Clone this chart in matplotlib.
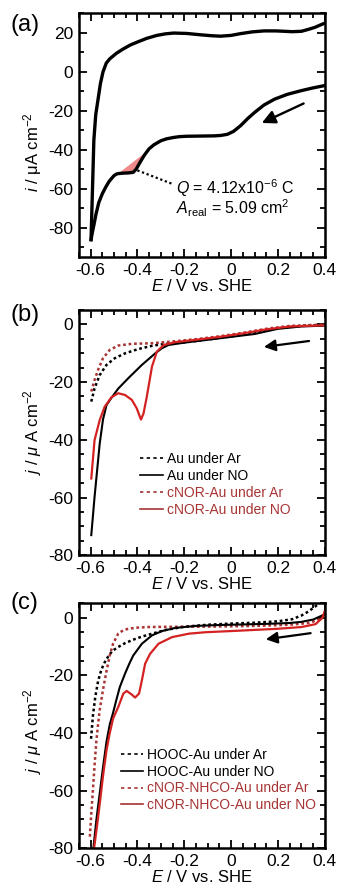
# -*- coding: utf-8 -*-
# three stacked voltammograms (a) CV, (b)/(c) LSV under Ar / NO

import matplotlib
matplotlib.use("Agg")
import matplotlib.pyplot as plt
import numpy as np
from matplotlib.lines import Line2D
from matplotlib.ticker import MultipleLocator

plt.rcParams['font.family'] = ['Liberation Sans', 'DejaVu Sans']
plt.rcParams['mathtext.fontset'] = 'custom'
plt.rcParams['mathtext.rm'] = 'Liberation Sans'
plt.rcParams['mathtext.it'] = 'Liberation Sans:italic'

# ---- (a) cyclic voltammogram
a_up_E = [-0.598, -0.593, -0.586, -0.578, -0.568, -0.558, -0.547, -0.533, -0.518, -0.49,
          -0.46, -0.43, -0.40, -0.36, -0.317, -0.28, -0.245, -0.19, -0.13, -0.08,
          -0.045, 0.0, 0.04, 0.09, 0.14, 0.19, 0.228, 0.26, 0.30, 0.33, 0.357, 0.38, 0.40]
a_up_i = [-86, -65, -35, -22, -14, -6, 0, 4.5, 6.7, 9.5,
          11.8, 13.8, 15.3, 17.2, 18.7, 19.5, 19.9, 19.7, 19.0, 18.5,
          18.3, 18.7, 19.6, 20.5, 21.0, 21.0, 20.8, 20.6, 20.8, 21.8, 22.8, 24.0, 25.0]
a_down_E = [0.40, 0.35, 0.30, 0.24, 0.185, 0.14, 0.10, 0.07, 0.04, 0.01,
            -0.016, -0.045, -0.073, -0.13, -0.19, -0.22, -0.245, -0.275, -0.30, -0.33,
            -0.35, -0.37, -0.39, -0.405, -0.418, -0.44, -0.46, -0.48, -0.49, -0.50,
            -0.52, -0.535, -0.55, -0.565, -0.577, -0.585, -0.592, -0.598]
a_down_i = [-7, -8.2, -9.6, -11.5, -14, -17, -20.8, -24, -27.6, -30.5,
            -32, -32.6, -32.8, -32.9, -33.0, -33.2, -33.6, -34.3, -35.3, -37.4,
            -39.4, -42.6, -46.6, -49.8, -51.5, -51.8, -51.9, -52.1, -52.4, -53.2,
            -56, -59, -62.5, -67, -73, -78, -82, -86]
q_base_E = [-0.49, -0.35]
q_base_i = [-52.4, -39.4]

# ---- (b) Au / cNOR-Au
b_au_ar_E = [-0.597, -0.583, -0.561, -0.532, -0.497, -0.453, -0.396, -0.338, -0.281,
             -0.2, -0.1, 0.0, 0.1, 0.2, 0.3, 0.4]
b_au_ar_j = [-26.8, -22.2, -17.6, -14.1, -11.8, -10.1, -8.6, -7.5, -6.8,
             -6.3, -5.3, -4.2, -3.0, -1.4, -0.6, -0.2]
b_cn_ar_E = [-0.597, -0.583, -0.568, -0.547, -0.518, -0.482, -0.424, -0.338, -0.252,
             -0.15, -0.05, 0.05, 0.15, 0.25, 0.4]
b_cn_ar_j = [-23.3, -19.3, -15.8, -11.8, -8.9, -7.4, -6.8, -6.6, -6.0,
             -5.2, -4.2, -3.0, -1.6, -0.6, -0.1]
b_au_no_E = [-0.597, -0.583, -0.561, -0.547, -0.532, -0.511, -0.482, -0.439, -0.381,
             -0.324, -0.295, -0.267, -0.2, -0.1, 0.0, 0.1, 0.2, 0.3, 0.4]
b_au_no_j = [-73, -59.8, -41.3, -33, -28, -25.5, -22.3, -18.7, -14.1,
             -10.1, -8.3, -7.2, -6.4, -5.4, -4.4, -3.4, -1.6, -0.8, -0.5]
b_cn_no_E = [-0.597, -0.583, -0.561, -0.54, -0.511, -0.482, -0.453, -0.424, -0.403,
             -0.385, -0.374, -0.36, -0.338, -0.317, -0.288, -0.238, -0.15, -0.05,
             0.05, 0.15, 0.25, 0.4]
b_cn_no_j = [-53.4, -40.1, -33.2, -28.6, -25.3, -23.9, -24.5, -26.2, -29.1,
             -33.0, -30.9, -25.1, -14.7, -9.5, -7.2, -6.2, -5.4, -4.4,
             -3.2, -1.8, -0.8, -0.4]

# ---- (c) HOOC-Au / cNOR-NHCO-Au
c_hc_ar_E = [-0.598, -0.59, -0.58, -0.568, -0.554, -0.54, -0.52, -0.504, -0.475, -0.453,
             -0.418, -0.38, -0.324, -0.28, -0.2, -0.1, 0.0, 0.1, 0.2, 0.26, 0.3,
             0.33, 0.36, 0.375]
c_hc_ar_j = [-42, -34, -27.5, -22, -18, -15.5, -12.8, -11.3, -9.8, -8.8,
             -7.6, -6.5, -5.2, -4.2, -3.1, -2.4, -2.0, -1.7, -1.2, -0.5, 0.8,
             2.2, 4.0, 5.0]
c_hc_no_E = [-0.588, -0.575, -0.561, -0.547, -0.532, -0.518, -0.504, -0.49, -0.475,
             -0.453, -0.435, -0.418, -0.381, -0.338, -0.295, -0.238, -0.15, -0.05,
             0.05, 0.15, 0.25, 0.3, 0.35, 0.38, 0.4]
c_hc_no_j = [-80, -70, -61, -52, -43, -37, -33, -28.5, -24,
             -19.4, -16, -13.1, -9, -6.1, -4.6, -3.5, -2.8, -2.5,
             -2.3, -2.1, -1.8, -1.4, -0.6, 0.5, 1.2]
c_cn_ar_E = [-0.603, -0.597, -0.59, -0.582, -0.575, -0.568, -0.561, -0.547, -0.532,
             -0.518, -0.504, -0.482, -0.46, -0.439, -0.4, -0.353, -0.25, -0.15, -0.05,
             0.05, 0.15, 0.25, 0.33, 0.37, 0.4]
c_cn_ar_j = [-76, -68, -59.8, -50, -42.5, -37, -32, -25, -18.5,
             -13, -9, -5.5, -4.3, -3.8, -3.4, -3.2, -3.1, -3.1, -3.0,
             -2.9, -2.7, -2.4, -1.8, -0.8, 1.5]
c_cn_no_E = [-0.585, -0.572, -0.56, -0.547, -0.532, -0.518, -0.504, -0.482, -0.46,
             -0.446, -0.425, -0.41, -0.393, -0.381, -0.367, -0.346, -0.31, -0.252,
             -0.18, -0.109, 0.0, 0.1, 0.2, 0.3, 0.36, 0.39, 0.4]
c_cn_no_j = [-80, -72, -64, -55, -46, -40, -35, -31, -26.3,
             -25.4, -26.6, -27.7, -26.3, -21.7, -15.9, -12.5, -9, -6.7,
             -5.5, -5.0, -4.6, -4.2, -3.8, -3.2, -2.2, 0.0, 2.5]

labels_b = ["Au under Ar", "Au under NO", "cNOR-Au under Ar", "cNOR-Au under NO"]
labels_c = ["HOOC-Au under Ar", "HOOC-Au under NO",
            "cNOR-NHCO-Au under Ar", "cNOR-NHCO-Au under NO"]

RED = "#d42222"
DRED = "#a83434"
DOT = (0, (1.1, 1.1))

fig = plt.figure(figsize=(3.37, 8.9), dpi=100)
ax_a = fig.add_axes([0.234, 0.711, 0.730, 0.274])
ax_b = fig.add_axes([0.234, 0.376, 0.730, 0.276])
ax_c = fig.add_axes([0.234, 0.047, 0.730, 0.275])


def style_axis(ax, ylim, ymajor, yminor):
    ax.set_xlim(-0.65, 0.4)
    ax.set_ylim(*ylim)
    ax.xaxis.set_major_locator(MultipleLocator(0.2))
    ax.xaxis.set_minor_locator(MultipleLocator(0.05))
    ax.yaxis.set_major_locator(MultipleLocator(ymajor))
    ax.yaxis.set_minor_locator(MultipleLocator(yminor))
    ax.set_xticks([-0.6, -0.4, -0.2, 0, 0.2, 0.4])
    ax.set_xticklabels(["-0.6", "-0.4", "-0.2", "0", "0.2", "0.4"])
    ax.tick_params(which="both", direction="in", top=True, right=True,
                   labelsize=12.5, width=1.3, pad=4)
    ax.tick_params(which="major", length=6)
    ax.tick_params(which="minor", length=3.5)
    for s in ax.spines.values():
        s.set_linewidth(1.8)
    ax.set_xlabel(r"$E$ / V vs. SHE", fontsize=12, labelpad=0)


# ---- (a)
style_axis(ax_a, (-95, 30), 20, 10)
ax_a.set_yticks([-80, -60, -40, -20, 0, 20])
ax_a.set_yticklabels(["-80", "-60", "-40", "-20", "0", "20"])
ax_a.plot(a_up_E, a_up_i, color="k", lw=2.4, solid_joinstyle="round")
ax_a.plot(a_down_E, a_down_i, color="k", lw=2.4, solid_joinstyle="round")
# charge area between baseline and the cathodic wave
seg = [(e, i) for e, i in zip(a_down_E, a_down_i) if q_base_E[0] <= e <= q_base_E[1]]
seg_E = np.array([p[0] for p in seg])[::-1]
seg_i = np.array([p[1] for p in seg])[::-1]
base = np.interp(seg_E, q_base_E, q_base_i)
ax_a.fill_between(seg_E, seg_i, base, color="#f08a8a", lw=0, zorder=1)
ax_a.plot([-0.40, -0.245], [-50.5, -57.7], color="k", lw=1.6, ls=(0, (1, 1.2)))
ax_a.text(-0.235, -59.5, r"$Q$ = 4.12x10$^{-6}$ C", fontsize=11.5, va="center")
ax_a.text(-0.235, -70.0, r"$A_{\rm real}$ = 5.09 cm$^{2}$", fontsize=11.5, va="center")
ax_a.annotate("", xy=(0.12, -26.8), xytext=(0.32, -15.6),
              arrowprops=dict(arrowstyle="-|>", color="k", lw=1.7, mutation_scale=20))
ax_a.set_ylabel("$i$ / μA cm$^{-2}$", fontsize=12)
ax_a.yaxis.set_label_coords(-0.14, 0.43)

# ---- (b)
style_axis(ax_b, (-80, 5), 20, 5)
ax_b.set_yticks([-80, -60, -40, -20, 0])
ax_b.set_yticklabels(["-80", "-60", "-40", "-20", "0"])
ax_b.plot(b_au_ar_E, b_au_ar_j, color="k", lw=1.8, ls=DOT)
ax_b.plot(b_cn_ar_E, b_cn_ar_j, color=DRED, lw=1.8, ls=DOT)
ax_b.plot(b_au_no_E, b_au_no_j, color="k", lw=1.5)
ax_b.plot(b_cn_no_E, b_cn_no_j, color=RED, lw=1.6)
ax_b.annotate("", xy=(0.128, -8.0), xytext=(0.344, -5.7),
              arrowprops=dict(arrowstyle="-|>", color="k", lw=1.6, mutation_scale=17))
ax_b.set_ylabel(r"$j$ / $\mu$ A cm$^{-2}$", fontsize=12)
ax_b.yaxis.set_label_coords(-0.14, 0.5)

# ---- (c)
style_axis(ax_c, (-80, 5), 20, 5)
ax_c.set_yticks([-80, -60, -40, -20, 0])
ax_c.set_yticklabels(["-80", "-60", "-40", "-20", "0"])
ax_c.plot(c_hc_ar_E, c_hc_ar_j, color="k", lw=1.8, ls=DOT)
ax_c.plot(c_cn_ar_E, c_cn_ar_j, color=DRED, lw=1.8, ls=DOT)
ax_c.plot(c_hc_no_E, c_hc_no_j, color="k", lw=1.5)
ax_c.plot(c_cn_no_E, c_cn_no_j, color=RED, lw=1.6)
ax_c.annotate("", xy=(0.136, -7.6), xytext=(0.351, -5.2),
              arrowprops=dict(arrowstyle="-|>", color="k", lw=1.6, mutation_scale=17))
ax_c.set_ylabel(r"$j$ / $\mu$ A cm$^{-2}$", fontsize=12)
ax_c.yaxis.set_label_coords(-0.14, 0.48)

# legends: short handles, text coloured like the lines
handles = [Line2D([], [], color="k", lw=1.2, ls=(0, (2, 2))),
           Line2D([], [], color="k", lw=1.2),
           Line2D([], [], color=DRED, lw=1.2, ls=(0, (2, 2))),
           Line2D([], [], color=DRED, lw=1.2)]
for ax, labs, anchor in [(ax_b, labels_b, (0.25, 0.42)), (ax_c, labels_c, (0.17, 0.41))]:
    ax.legend(handles, labs, loc="upper left", bbox_to_anchor=anchor, frameon=False,
              fontsize=10, handlelength=1.6, handletextpad=0.3, labelspacing=0.2,
              borderpad=0, borderaxespad=0, labelcolor=["k", "k", DRED, DRED])

for txt, y in [("(a)", 0.972), ("(b)", 0.646), ("(c)", 0.322)]:
    fig.text(0.03, y, txt, fontsize=17, va="center", ha="left")

fig.savefig("out.png", dpi=100)
